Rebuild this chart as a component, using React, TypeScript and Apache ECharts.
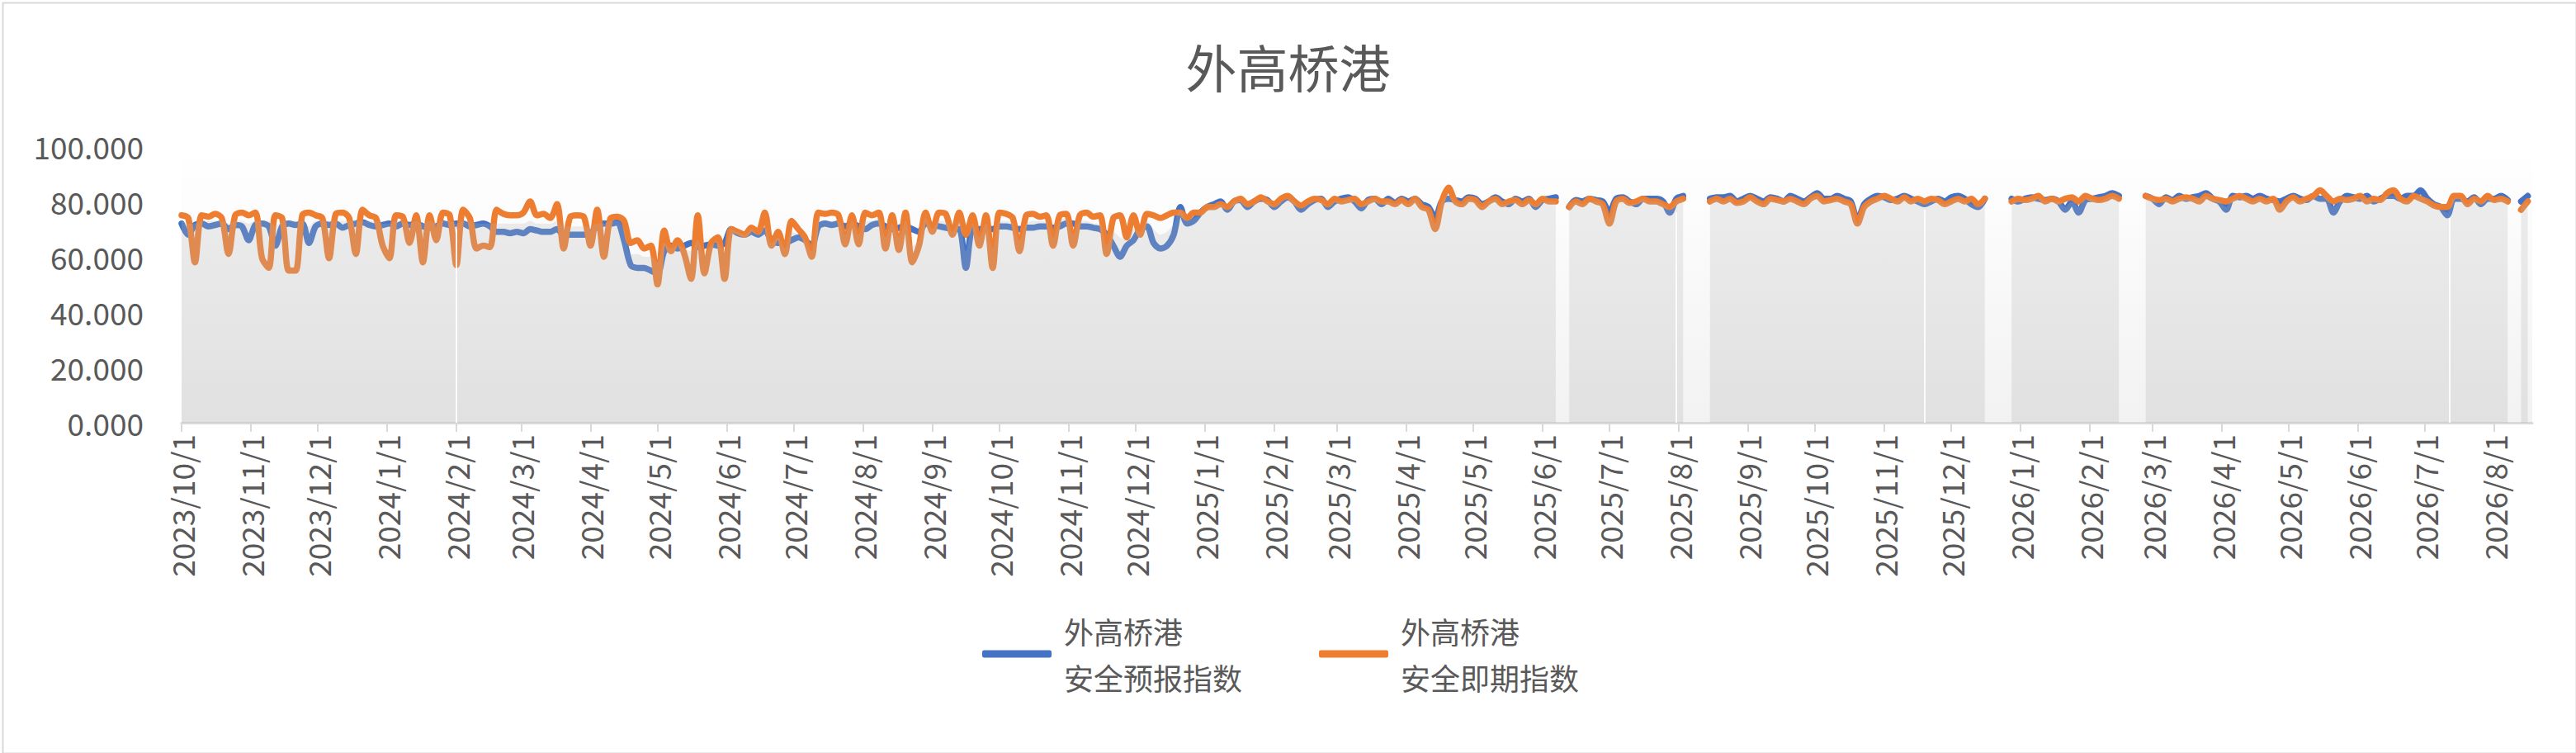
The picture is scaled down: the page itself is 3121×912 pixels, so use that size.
import React, { useEffect, useRef } from "react";
import * as echarts from "echarts";

const TITLE = "外高桥港";
const SERIES_NAMES = ["外高桥港\n安全预报指数", "外高桥港\n安全即期指数"];
const START_YEAR = 2023;
const START_MONTH = 10;
const START_DAY = 1;
const DAY_COUNT = 1053;
const SAMPLE_STEP = 3;
const Y_TICKS = [0, 20, 40, 60, 80, 100];

// 安全预报指数 (blue), one reading every 3 days from 2023/10/1
const FORECAST: (number | null)[] = [
  72, 68, 71.5, 72, 71, 71.5, 72, 70, 71.5, 71,
  66, 71.5, 72, 71, 64, 71, 72, 71.5, 72, 65,
  71, 72, 71.5, 72, 70.5, 71.5, 72, 72.5, 71.5, 71,
  71.5, 72, 71, 72, 71.5, 72, 71, 70.5, 71, 72,
  71.5, 72, 72, 71, 71.5, 72, 71, 69, 69, 68.5,
  69, 68.5, 70, 69.5, 69, 69, 70, 68, 68, 68,
  68, 68.5, 71, 72, 72, 72.5, 66, 57, 56, 56,
  55, 54, 62, 64, 63, 64, 65, 63.5, 64, 64.5,
  64, 65, 70, 68.5, 68, 69, 68, 69.5, 66, 65,
  65, 66, 67, 66, 64, 71, 72, 71.5, 72, 71,
  72, 71, 70, 71.5, 72, 71, 70, 70.5, 71, 70,
  69, 72, 71.5, 71, 70.5, 70, 70, 56, 70, 70,
  70, 70, 71, 71, 70.5, 70, 70.5, 70.5, 71, 71,
  70.5, 71, 72, 72, 71, 71, 70.5, 70, 68, 64,
  60, 64, 66, 70, 71, 65, 63, 64, 68, 78,
  72, 73, 76, 78, 79, 80, 77, 80, 80.5, 78,
  80, 81, 80.5, 78, 80, 81.5, 80, 77, 79, 80.5,
  81, 78, 80, 81, 81.5, 80, 77.5, 80.5, 81, 79,
  81, 79.5, 81, 80, 81, 79, 78, 74, 80, 81,
  80.5, 80, 81.5, 81, 79, 80, 81.5, 80, 79, 81,
  80, 81, 78, 80.5, 81, 81.5, null, 78, 80.5, 80,
  81, 80.5, 80, 76, 81, 81.5, 80, 79, 81, 81,
  81, 80, 76, 81, 82, null, null, null, 81, 81.5,
  81.5, 82, 80, 81, 82, 81, 80, 81.5, 81, 80,
  82, 81, 80, 81.5, 83, 81, 81, 82, 81, 80,
  73, 79, 81, 82, 81.5, 80.5, 81, 82, 81, 80,
  79, 80, 81, 80, 81.5, 82, 81, 79, 78, 81,
  null, null, null, 81, 80, 81, 81.5, 81, 80.5, 81,
  80, 77, 80, 76, 80.5, 81, 81.5, 82, 83, 82,
  null, null, null, 82, 81, 79, 81.5, 80.5, 82, 81,
  81.5, 82, 83, 81, 80, 77, 82, 81.5, 82, 81,
  82, 81, 80.5, 80, 81, 82, 81, 80.5, 82, 81,
  81, 76, 80, 82, 81.5, 81, 82, 80, 81, 82,
  82, 81, 82, 82, 84, 81, 79, 78, 75, 81,
  81, 80, 81.5, 79, 81, 81, 82, 80.5, null, 80,
  82,
];

// 安全即期指数 (orange), one reading every 3 days from 2023/10/1
const CURRENT: (number | null)[] = [
  75, 74, 58, 75, 74.5, 75.5, 74, 61, 75, 76,
  75, 76, 59.5, 56, 75, 74, 55, 55, 75, 76,
  75, 74, 59.5, 75.5, 76, 74, 61, 77, 75, 74,
  64, 59.5, 75, 74.5, 65, 75, 58, 75, 66, 76,
  75, 57, 77, 74, 63, 64, 63.5, 77, 75.5, 75,
  75, 76, 80, 75, 75.5, 74, 79, 63, 74.5, 75,
  74.5, 64, 77, 60, 74, 74.5, 73, 65, 66, 63,
  64, 50, 69.5, 62, 66, 61, 52, 75, 54, 65,
  67, 52, 70, 69, 68, 70.5, 69, 76, 64, 69,
  61, 73, 70, 67, 60, 76, 75.5, 76, 75, 64.5,
  75, 64.5, 76, 75, 76, 63, 75, 62.5, 76, 58,
  64, 76, 69, 76, 75.5, 68, 76, 68, 75, 64,
  75, 56, 76, 75.5, 74, 62, 75, 75.5, 74.5, 75,
  64, 75, 75.5, 64, 75, 76, 74.5, 75, 61, 74,
  75, 67, 75, 68, 75.5, 75, 74, 75, 76, 76,
  74, 76, 76, 78, 78, 79, 78, 80, 81, 79,
  80, 81.5, 80, 79, 81, 82, 80, 78.5, 80, 81,
  80.5, 79, 81, 80, 80.5, 81, 79, 80, 81, 80,
  80, 79, 80.5, 79, 81, 78, 77, 70, 80, 85,
  80, 79, 81, 80.5, 78, 80, 81, 79, 80, 80.5,
  79, 80.5, 79, 81, 80, 80, null, 78, 80, 79,
  81, 80, 79, 72, 80, 81, 79.5, 80, 81, 80,
  80, 79, 78, 80, 81, null, null, null, 80, 81,
  80, 81, 79.5, 80, 81.5, 80, 79, 81, 80.5, 80,
  81, 80, 79, 81, 82, 80, 80.5, 81, 80, 79,
  72, 78, 80, 81, 82, 81, 80, 81.5, 80, 81,
  80, 81, 80.5, 79, 80, 81, 80, 81, 79, 81,
  null, null, null, 80, 81, 80.5, 81, 82, 80, 81,
  80, 81, 81.5, 80, 82, 81, 80.5, 81, 82, 81,
  null, null, null, 82, 81, 80.5, 81, 80, 81, 81.5,
  81, 80, 82, 81, 80.5, 80, 81, 82, 81, 80,
  81, 80, 81, 77, 80, 81.5, 80, 81, 82, 84,
  82, 80, 81, 80.5, 81, 82, 80, 81, 80.5, 83,
  84, 81, 80, 82, 81, 80, 78.5, 78, 78, 82,
  82, 79, 81, 80, 82, 80.5, 81, 80, null, 77,
  80,
];

// grey shaded band (unlabelled series) – its upper edge, every 3 days
const SHADE: (number | null)[] = [
  73, 72, 72, 73, 73, 73, 73, 72, 73, 73,
  72, 73, 73, 73, 71, 73, 73, 73, 73, 71,
  73, 73, 73, 73, 73, 73, 73, 73, 73, 73,
  72, 72, 73, 73, 72, 73, 72, 73, 72, 73,
  73, 72, 73, 73, 72, 72, 72, 72, 72, 72,
  72, 72, 73, 72, 72, 72, 73, 71, 71, 71,
  71, 71, 72, 72, 73, 73, 70, 61, 61, 60,
  60, 58, 65, 63, 64, 63, 62, 66, 61, 64,
  65, 62, 70, 69, 68, 70, 68, 71, 65, 67,
  63, 69, 68, 66, 62, 73, 73, 73, 73, 68,
  73, 68, 73, 73, 74, 67, 72, 67, 73, 64,
  66, 74, 70, 73, 73, 69, 73, 62, 72, 67,
  72, 63, 73, 73, 72, 66, 72, 73, 73, 73,
  67, 73, 74, 68, 73, 73, 72, 72, 64, 69,
  67, 66, 70, 69, 73, 70, 68, 69, 72, 77,
  73, 74, 75, 77, 78, 79, 77, 80, 80, 78,
  79, 80, 80, 78, 80, 81, 80, 77, 79, 80,
  80, 78, 80, 80, 81, 80, 78, 80, 81, 79,
  80, 79, 80, 79, 81, 78, 77, 72, 80, 82,
  80, 79, 81, 80, 78, 80, 81, 79, 79, 80,
  79, 80, 78, 80, 80, 80, null, 78, 80, 79,
  80, 80, 79, 74, 80, 81, 79, 79, 81, 80,
  80, 79, 77, 80, 81, null, null, null, 80, 81,
  80, 81, 79, 80, 81, 80, 79, 81, 80, 80,
  81, 80, 79, 81, 82, 80, 80, 81, 80, 79,
  72, 78, 80, 81, 81, 80, 80, 81, 80, 80,
  79, 80, 80, 79, 80, 81, 80, 79, 78, 80,
  null, null, null, 80, 80, 80, 81, 81, 80, 80,
  80, 78, 80, 78, 81, 81, 80, 81, 82, 81,
  null, null, null, 81, 81, 79, 81, 80, 81, 81,
  81, 81, 82, 81, 80, 78, 81, 81, 81, 80,
  81, 80, 80, 78, 80, 81, 80, 80, 81, 82,
  81, 78, 80, 81, 81, 81, 81, 80, 80, 82,
  82, 80, 80, 81, 82, 80, 78, 77, 76, 81,
  81, 79, 81, 79, 81, 80, 81, 80, null, 78,
  80,
];

// single-day breaks in the shaded band
const BREAK_DATES = ["2024/2/1", "2025/7/31", "2025/11/19", "2026/7/12"];
const BREAK_TOPS = [70, 76, 77, 74];

function buildDates(): string[] {
  const out: string[] = [];
  for (let i = 0; i < DAY_COUNT; i++) {
    const d = new Date(Date.UTC(START_YEAR, START_MONTH - 1, START_DAY + i));
    out.push(`${d.getUTCFullYear()}/${d.getUTCMonth() + 1}/${d.getUTCDate()}`);
  }
  return out;
}

const toPairs = (arr: (number | null)[]) =>
  arr.map((v, i) => [i * SAMPLE_STEP, v === null ? "-" : v]);

const FONT = "Noto Sans CJK SC";
const TEXT = "#595959";

export default function App() {
  const ref = useRef<HTMLDivElement>(null);
  useEffect(() => {
    if (!ref.current) return;
    const chart = echarts.init(ref.current, null, { renderer: "svg" });
    const dates = buildDates();
    const isMonthStart = (_: number, v: string) => /\/1$/.test(v);
    chart.setOption({
      animation: false,
      backgroundColor: "#ffffff",
      textStyle: { fontFamily: FONT },
      title: {
        text: TITLE,
        left: "center",
        top: 44,
        textStyle: { fontFamily: FONT, fontSize: 62, fontWeight: "normal", color: TEXT },
      },
      graphic: [
        {
          type: "rect",
          left: 1,
          top: 1,
          shape: { width: 3118, height: 909 },
          style: { fill: "none", stroke: "#d9d9d9", lineWidth: 2 },
          silent: true,
        },
      ],
      legend: {
        data: SERIES_NAMES,
        left: 1190,
        top: 708,
        padding: 0,
        itemGap: 93,
        itemWidth: 84,
        itemHeight: 9,
        icon: "roundRect",
        textStyle: {
          fontFamily: FONT,
          fontSize: 36,
          lineHeight: 56,
          color: TEXT,
          padding: [56, 0, 0, 10],
        },
      },
      grid: {
        left: 220,
        right: 53,
        top: 177,
        bottom: 400,
        show: true,
        borderWidth: 0,
        backgroundColor: new echarts.graphic.LinearGradient(0, 0, 0, 1, [
          { offset: 0, color: "#ffffff" },
          { offset: 1, color: "#f2f2f2" },
        ]),
      },
      xAxis: {
        type: "category",
        data: dates,
        boundaryGap: false,
        axisLine: { lineStyle: { color: "#d9d9d9", width: 3 } },
        axisTick: { interval: isMonthStart, length: 11, lineStyle: { color: "#d9d9d9", width: 2 } },
        axisLabel: {
          interval: isMonthStart,
          rotate: 90,
          margin: 14,
          fontFamily: FONT,
          fontSize: 37,
          color: TEXT,
        },
        splitLine: { show: false },
      },
      yAxis: {
        type: "value",
        min: Y_TICKS[0],
        max: Y_TICKS[Y_TICKS.length - 1],
        interval: 20,
        axisLine: { show: false },
        axisTick: { show: false },
        splitLine: { show: false },
        axisLabel: {
          margin: 46,
          fontFamily: FONT,
          fontSize: 37,
          color: TEXT,
          formatter: (v: number) => v.toFixed(3),
        },
      },
      series: [
        {
          name: SERIES_NAMES[0],
          type: "line",
          data: toPairs(FORECAST),
          showSymbol: false,
          smooth: 0.3,
          color: "#4472C4",
          lineStyle: { width: 7.5, color: "#4472C4", cap: "round", join: "round" },
          emphasis: { disabled: true },
          z: 2,
        },
        {
          name: SERIES_NAMES[1],
          type: "line",
          data: toPairs(CURRENT),
          showSymbol: false,
          smooth: 0.3,
          color: "#ED7D31",
          lineStyle: { width: 7.5, color: "#ED7D31", cap: "round", join: "round" },
          emphasis: { disabled: true },
          z: 3,
        },
        {
          name: "shade",
          type: "line",
          data: toPairs(SHADE),
          showSymbol: false,
          smooth: 0.3,
          lineStyle: { width: 0 },
          areaStyle: {
            color: new echarts.graphic.LinearGradient(0, 0, 0, 1, [
              { offset: 0, color: "rgba(180,180,180,0.33)" },
              { offset: 1, color: "rgba(180,180,180,0.40)" },
            ]),
          },
          emphasis: { disabled: true },
          silent: true,
          z: 4,
          markLine: {
            silent: true,
            symbol: "none",
            label: { show: false },
            lineStyle: { color: "rgba(255,255,255,0.85)", width: 2, type: "solid" },
            data: BREAK_DATES.map((d, i) => [
              { xAxis: d, yAxis: 0 },
              { xAxis: d, yAxis: BREAK_TOPS[i] },
            ]),
          },
        },
      ],
    });
    return () => chart.dispose();
  }, []);
  return (
    <div
      ref={ref}
      style={{ position: "absolute", left: 0, top: 0, width: 3121, height: 912 }}
    />
  );
}
